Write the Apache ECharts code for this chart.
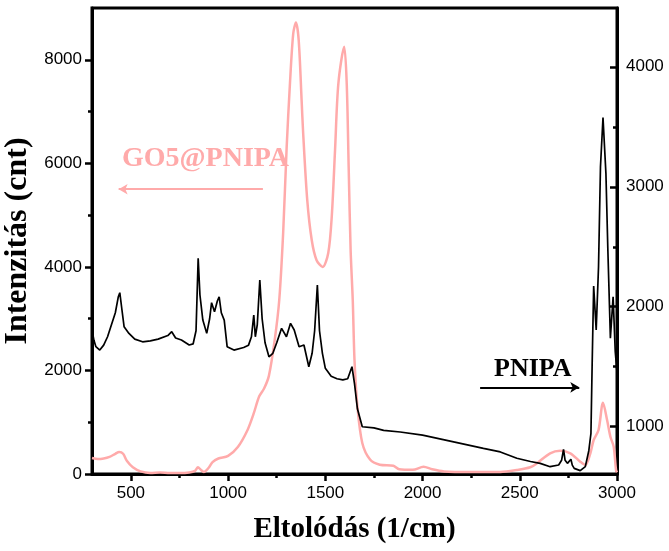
<!DOCTYPE html>
<html>
<head>
<meta charset="utf-8">
<script src="https://cdn.jsdelivr.net/npm/echarts@6/dist/echarts.min.js"></script>
<style>html,body{margin:0;padding:0;background:#fff}#c{width:669px;height:551px}</style>
</head>
<body>
<div id="c"></div>
<script>
// ---- data ----
var xTicks = [500, 1000, 1500, 2000, 2500, 3000];
var xMinor = [750, 1250, 1750, 2250, 2750];
var leftTicks = [0, 2000, 4000, 6000, 8000];
var leftMinor = [1000, 3000, 5000, 7000];
var rightTicks = [1000, 2000, 3000, 4000];
var rightMinor = [1500, 2500, 3500];

// GO5@PNIPA (left axis)
var goX = [300,330,360,390,420,440,460,480,510,550,600,650,700,750,800,830,845,860,875,900,920,950,1000,1050,1100,1130,1160,1185,1210,1240,1263,1283,1301,1318,1335,1349,1363,1378,1386,1407,1430,1455,1486,1515,1533,1550,1567,1597,1610,1620,1630,1641,1650,1665,1690,1730,1780,1850,1880,1950,2005,2050,2110,2250,2400,2485,2554,2588,2656,2708,2760,2811,2837,2863,2880,2905,2928,2949,2966,2983,2995,3000];
var goY = [310,290,300,330,390,425,390,250,130,50,20,30,20,20,30,60,130,80,40,120,230,300,350,520,850,1150,1500,1650,1900,2600,3360,4650,6300,7540,8510,8720,8380,7220,6580,5290,4520,4130,4000,4270,4970,6260,7540,8250,7540,5930,4330,3360,2200,1300,600,280,180,160,90,80,140,90,50,40,40,77,130,206,400,450,400,238,174,400,656,850,1377,1043,720,527,77,30];

// PNIPA (right axis)
var pnX = [300,310,320,340,360,380,400,420,435,443,452,465,490,520,560,600,640,690,710,730,760,800,820,835,846,855,870,890,905,915,930,945,954,965,980,995,1030,1080,1105,1120,1132,1140,1150,1163,1175,1190,1210,1230,1250,1275,1300,1321,1340,1365,1390,1415,1432,1445,1459,1470,1485,1500,1530,1560,1590,1615,1637,1650,1665,1690,1750,1800,1885,2000,2142,2313,2400,2485,2555,2605,2656,2700,2715,2725,2733,2745,2763,2770,2780,2811,2837,2855,2866,2872,2880,2893,2905,2915,2928,2943,2953,2966,2980,2991,3000];
var pnY = [1806,1720,1667,1639,1680,1750,1850,1950,2080,2117,2000,1834,1778,1730,1708,1715,1730,1760,1792,1740,1723,1681,1690,1800,2403,2100,1889,1778,1900,2034,1958,2050,2083,1950,1889,1667,1639,1660,1680,1750,1931,1750,1850,2223,1900,1700,1583,1612,1700,1820,1750,1862,1806,1667,1681,1500,1612,1800,2181,1800,1612,1487,1420,1400,1390,1400,1500,1360,1150,1000,990,970,956,930,880,820,790,737,710,695,667,681,720,812,720,695,729,680,653,634,667,800,945,1500,2173,1806,2334,3167,3578,3112,2473,1737,2083,1625,1450];

function zip(a, b) { return a.map(function (v, i) { return [v, b[i]]; }); }
function plain(v) { return String(v); }

var PINK = '#ffaaaa';
var lab = { fontFamily: 'Liberation Sans', fontSize: 17, color: '#000', formatter: plain };
var axLine = { show: true, lineStyle: { color: '#000', width: 3 } };
var hidden = { show: false };

var chart = echarts.init(document.getElementById('c'), null, { renderer: 'canvas' });
chart.setOption({
  animation: false,
  backgroundColor: '#fff',
  grid: { left: 92, right: 52, top: 8, bottom: 77, containLabel: false, outerBoundsMode: 'none',
    show: true, borderColor: '#000', borderWidth: 3, backgroundColor: 'transparent' },
  xAxis: [
    { type: 'value', min: 300, max: 3000, position: 'bottom',
      axisLine: axLine, splitLine: hidden,
      axisTick: { show: true, length: 7, customValues: xTicks, lineStyle: { color: '#000', width: 2.5 } },
      axisLabel: { show: true, margin: 11, customValues: xTicks, ...lab },
      name: 'Eltolódás (1/cm)', nameLocation: 'middle', nameGap: 41,
      nameTextStyle: { fontFamily: 'Liberation Serif', fontWeight: 'bold', fontSize: 29, color: '#000' } },
    { type: 'value', min: 300, max: 3000, position: 'bottom',
      axisLine: hidden, splitLine: hidden, axisLabel: hidden,
      axisTick: { show: true, length: 4, customValues: xMinor, lineStyle: { color: '#000', width: 2.5 } } }
  ],
  yAxis: [
    { type: 'value', min: 0, max: 9000, position: 'left',
      axisLine: axLine, splitLine: hidden,
      axisTick: { show: true, length: 7, customValues: leftTicks, lineStyle: { color: '#000', width: 2.5 } },
      axisLabel: { show: true, margin: 10, customValues: leftTicks, ...lab },
      name: 'Intenzitás (cnt)', nameLocation: 'middle', nameGap: 46,
      nameTextStyle: { fontFamily: 'Liberation Serif', fontWeight: 'bold', fontSize: 32, color: '#000' } },
    { type: 'value', min: 606, max: 4490, position: 'right',
      axisLine: axLine, splitLine: hidden,
      axisTick: { show: true, inside: true, length: 7, customValues: rightTicks, lineStyle: { color: '#000', width: 2.5 } },
      axisLabel: { show: true, margin: 9, customValues: rightTicks, ...lab } },
    { type: 'value', min: 0, max: 9000, position: 'left',
      axisLine: hidden, splitLine: hidden, axisLabel: hidden,
      axisTick: { show: true, length: 4, customValues: leftMinor, lineStyle: { color: '#000', width: 2.5 } } },
    { type: 'value', min: 606, max: 4490, position: 'right',
      axisLine: hidden, splitLine: hidden, axisLabel: hidden,
      axisTick: { show: true, inside: true, length: 4, customValues: rightMinor, lineStyle: { color: '#000', width: 2.5 } } }
  ],
  series: [
    { name: 'GO5@PNIPA', type: 'line', xAxisIndex: 0, yAxisIndex: 0, data: zip(goX, goY),
      showSymbol: false, smooth: 0.3,
      lineStyle: { color: PINK, width: 2.5 }, z: 2,
      markLine: { silent: true, symbol: ['none', 'arrow'], symbolSize: [8, 9],
        label: { show: false }, lineStyle: { color: PINK, width: 2, type: 'solid' },
        data: [[{ coord: [1179, 5500] }, { coord: [437, 5500] }]] } },
    { name: 'PNIPA', type: 'line', xAxisIndex: 0, yAxisIndex: 1, data: zip(pnX, pnY),
      showSymbol: false, lineStyle: { color: '#000', width: 1.7 }, z: 3,
      markLine: { silent: true, symbol: ['none', 'arrow'], symbolSize: [8, 9],
        label: { show: false }, lineStyle: { color: '#000', width: 2, type: 'solid' },
        data: [[{ coord: [2296, 1328] }, { coord: [2806, 1328] }]] } }
  ],
  graphic: [
    { type: 'text', left: 122, top: 145, style: { text: 'GO5@PNIPA', fill: PINK, font: 'bold 28px "Liberation Serif"' } },
    { type: 'text', left: 494, top: 356, style: { text: 'PNIPA', fill: '#000', font: 'bold 26px "Liberation Serif"' } }
  ]
});
</script>
</body>
</html>
